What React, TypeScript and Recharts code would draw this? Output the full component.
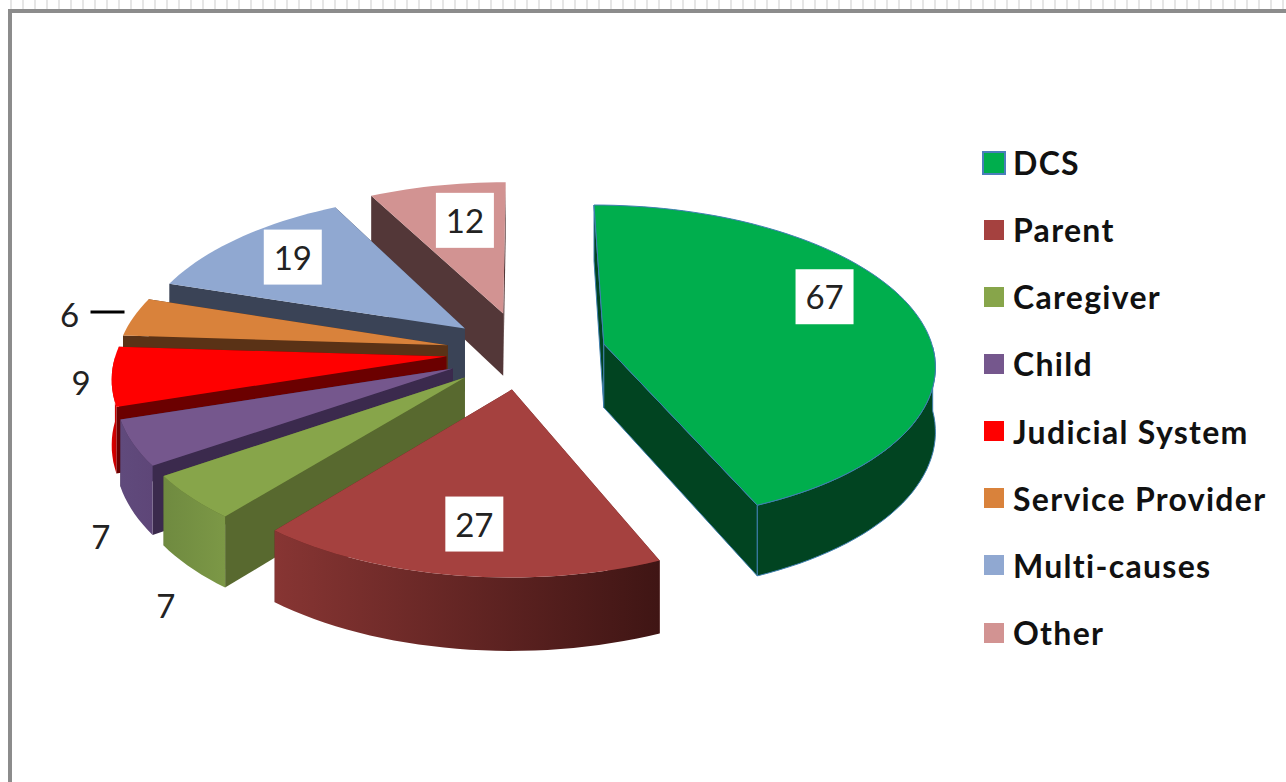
import { PieChart, Pie, Legend } from "recharts";

const categories = ["DCS", "Parent", "Caregiver", "Child", "Judicial System", "Service Provider", "Multi-causes", "Other"];
const counts = [67, 27, 7, 7, 9, 6, 19, 12];

const topColors = ["#00AE4D", "#A5413F", "#87A54A", "#75578D", "#FF0000", "#D9823B", "#90A8D1", "#D29392"];
const sideColors = ["#014421", "#5C1F1D", "#58692F", "#3B2A4D", "#6B0000", "#5A3216", "#3A4356", "#533738"];
const rimStart = ["#014421", "#873533", "#6F8A40", "#604A7C", "#E00000", "#8F5522", "#5A6C8C", "#8A5B5A"];
const rimEnd = ["#014421", "#3F1514", "#7C9846", "#5E4678", "#C00000", "#8F5522", "#5A6C8C", "#8A5B5A"];

// Pie runs counter-clockwise over the reversed list so back slices paint first
const rows = categories
  .map((name, i) => ({ name, value: counts[i], top: topColors[i], side: sideColors[i], rimA: rimStart[i], rimB: rimEnd[i] }))
  .reverse();

const CX = 523;
const CY = 352;
const R = 330;
const TILT = 0.485;
const PERSP = 0.12;
const DEPTH = 64;
const EXPLODE = 77;
const RAD = Math.PI / 180;

const explodeBy: Record<string, number> = { DCS: 83, Parent: 76, Other: 84 };

// outside labels: extra offset below the pie rim
const outside: Record<string, { f: number; drop: number }> = {
  Caregiver: { f: 1.085, drop: 87 },
  Child: { f: 1.095, drop: 80 },
  "Judicial System": { f: 1.09, drop: 4 },
  "Service Provider": { f: 1.21, drop: 3 },
};

// boxed labels sit a little off the computed spot
const boxNudge: Record<string, number[]> = {
  DCS: [-5, -25],
  Parent: [1, 4],
  "Multi-causes": [-6, -5],
  Other: [11, 2],
};

function project(cx: number, cy: number, gx: number, gy: number, z: number) {
  const k = 1 + (PERSP * gy) / R;
  return [cx + gx * k, cy + gy * TILT * k + z * k];
}

function slicePoint(p: any, r: number, angle: number, z: number) {
  const e = explodeBy[p.name] ?? EXPLODE;
  const gx = Math.cos(p.midAngle * RAD) * e + Math.cos(angle * RAD) * r;
  const gy = -Math.sin(p.midAngle * RAD) * e - Math.sin(angle * RAD) * r;
  return project(p.cx, p.cy, gx, gy, z);
}

const toPath = (pts: number[][]) => "M" + pts.map((q) => q[0].toFixed(1) + "," + q[1].toFixed(1)).join("L") + "Z";

function Slice3D(props: any) {
  const { startAngle, endAngle, outerRadius, payload } = props;
  const p = { ...props, name: payload.name };
  const a0 = Math.min(startAngle, endAngle);
  const a1 = Math.max(startAngle, endAngle);
  const arc: number[] = [];
  const n = Math.max(4, Math.ceil((a1 - a0) / 2));
  for (let i = 0; i <= n; i++) arc.push(a0 + ((a1 - a0) * i) / n);

  const apex = slicePoint(p, 0, a0, 0);
  const apexLow = slicePoint(p, 0, a0, DEPTH);
  const topArc = arc.map((a) => slicePoint(p, outerRadius, a, 0));
  // only the front half of the rim can be seen
  const frontArc = arc.filter((a) => Math.sin(a * RAD) <= 0.01);
  const rim = [
    ...frontArc.map((a) => slicePoint(p, outerRadius, a, 0)),
    ...[...frontArc].reverse().map((a) => slicePoint(p, outerRadius, a, DEPTH)),
  ];
  const wall = (a: number) => [apex, slicePoint(p, outerRadius, a, 0), slicePoint(p, outerRadius, a, DEPTH), apexLow];
  // far wall first
  const walls = [a0, a1].sort((x, y) => Math.sin(y * RAD) - Math.sin(x * RAD));
  const xs = rim.map((q) => q[0]);
  const gid = "rim-" + payload.name.replace(/\W/g, "");
  const edge = payload.name === "DCS" ? "#3F7FB0" : "none";

  return (
    <g>
      {rim.length > 2 && (
        <defs>
          <linearGradient id={gid} gradientUnits="userSpaceOnUse" x1={Math.min(...xs)} x2={Math.max(...xs)} y1={0} y2={0}>
            <stop offset="0%" stopColor={payload.rimA} />
            <stop offset="100%" stopColor={payload.rimB} />
          </linearGradient>
        </defs>
      )}
      <path d={toPath(wall(walls[0]))} fill={payload.side} stroke={edge} strokeWidth={1} />
      <path d={toPath(wall(walls[1]))} fill={payload.side} stroke={edge} strokeWidth={1} />
      {rim.length > 2 && <path d={toPath(rim)} fill={`url(#${gid})`} stroke={edge} strokeWidth={1} />}
      <path d={toPath([apex, ...topArc])} fill={payload.top} stroke={edge} strokeWidth={1} />
    </g>
  );
}

function SliceLabel(props: any) {
  const { name, value, midAngle, outerRadius } = props;
  const p = { ...props, name };
  const out = outside[name];
  const font = { fontFamily: "Lato, 'Open Sans', sans-serif", fontSize: 33, fill: "#222" };
  if (out) {
    const [x, y] = slicePoint(p, outerRadius * out.f, midAngle, out.drop);
    return (
      <g>
        {name === "Service Provider" && <line x1={x + 21} y1={y - 2} x2={x + 55} y2={y - 2} stroke="#000" strokeWidth={3} />}
        <text x={x} y={y} textAnchor="middle" dominantBaseline="central" {...font}>{value}</text>
      </g>
    );
  }
  const [bx, by] = slicePoint(p, outerRadius * 0.72, midAngle, 0);
  const [dx, dy] = boxNudge[name] ?? [0, 0];
  const x = bx + dx;
  const y = by + dy;
  return (
    <g>
      <rect x={x - 29} y={y - 27} width={58} height={55} fill="#fff" />
      <text x={x} y={y} textAnchor="middle" dominantBaseline="central" {...font}>{value}</text>
    </g>
  );
}

function LegendList() {
  return (
    <div>
      {categories.map((name, i) => (
        <div key={name} style={{ display: "flex", alignItems: "center", height: 67.15 }}>
          <span
            style={{
              width: i === 0 ? 24 : 20,
              height: i === 0 ? 24 : 20,
              boxSizing: "border-box",
              background: topColors[i],
              border: i === 0 ? "2.5px solid #4A7EBB" : "none",
              marginLeft: i === 0 ? -2 : 0,
              marginRight: i === 0 ? 7 : 9,
            }}
          />
          <span style={{ fontFamily: "Lato, sans-serif", fontWeight: 700, fontSize: 32, letterSpacing: 1.3, color: "#111", whiteSpace: "nowrap" }}>{name}</span>
        </div>
      ))}
    </div>
  );
}

export default function App() {
  return (
    <div
      style={{
        position: "absolute",
        left: 0,
        top: 0,
        width: 1286,
        height: 782,
        overflow: "hidden",
        background: "repeating-linear-gradient(90deg, #fff 0 10px, #e6e6e6 10px 12px)",
      }}
    >
      <div style={{ position: "absolute", left: 8, top: 9, right: 0, bottom: 0, background: "#fff", borderLeft: "4px solid #8c8c8c", borderTop: "4px solid #8c8c8c" }} />
      <div style={{ position: "absolute", left: 0, top: 0 }}>
        <PieChart width={1286} height={782} margin={{ top: 0, right: 0, bottom: 0, left: 0 }}>
          <Pie
            data={rows}
            dataKey="value"
            nameKey="name"
            cx={CX}
            cy={CY}
            innerRadius={0}
            outerRadius={R}
            startAngle={90}
            endAngle={450}
            stroke="none"
            isAnimationActive={false}
            shape={Slice3D}
            label={SliceLabel}
            labelLine={false}
          />
          <Legend content={LegendList} wrapperStyle={{ position: "absolute", left: 984, top: 129, width: 300, bottom: "auto" }} />
        </PieChart>
      </div>
    </div>
  );
}
